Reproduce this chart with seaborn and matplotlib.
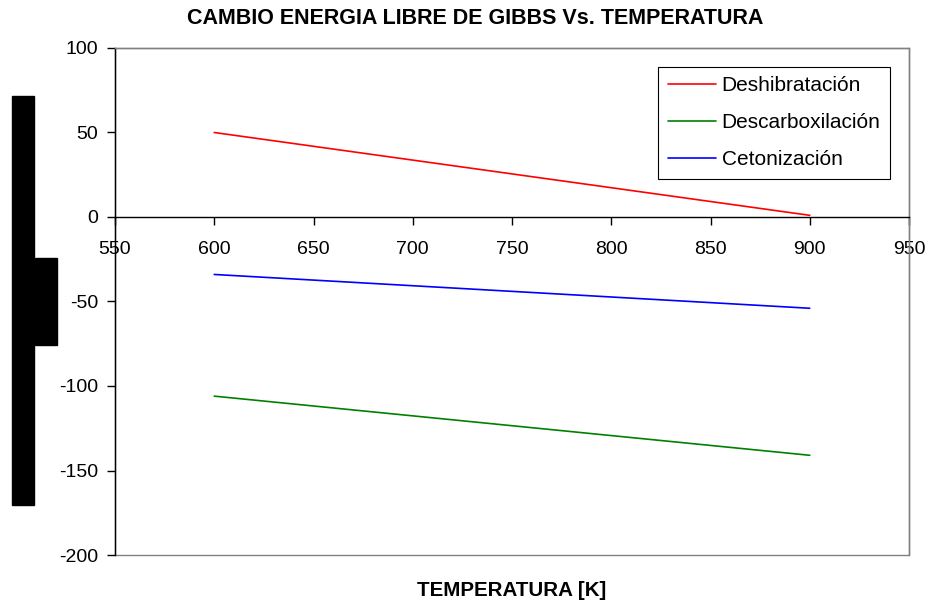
import matplotlib
matplotlib.use("Agg")
import matplotlib.pyplot as plt
from matplotlib.patches import Rectangle
import seaborn as sns
import pandas as pd

# Temperature endpoints [K] and Gibbs free energy change for each reaction
temperatura = [600, 900]
deshibratacion = [50, 1]
descarboxilacion = [-106, -141]
cetonizacion = [-34, -54]

series = ["Deshibratación", "Descarboxilación", "Cetonización"]
colores = ["#ff0000", "#008000", "#0000ff"]

df = pd.DataFrame({
    "T": temperatura * 3,
    "dG": deshibratacion + descarboxilacion + cetonizacion,
    "Reaccion": [series[0]] * 2 + [series[1]] * 2 + [series[2]] * 2,
})

sns.set_style("white")
plt.rcParams["font.family"] = ["Liberation Sans", "DejaVu Sans"]
plt.rcParams["axes.unicode_minus"] = False
plt.rcParams["text.color"] = "black"
plt.rcParams["xtick.color"] = "black"
plt.rcParams["ytick.color"] = "black"

fig = plt.figure(figsize=(9.32, 6.07), dpi=100)
ax = fig.add_axes([115 / 932, 1 - 555 / 607, 794 / 932, 507 / 607])

sns.lineplot(data=df, x="T", y="dG", hue="Reaccion", hue_order=series,
             palette=colores, linewidth=1.2, ax=ax, legend=True)

ax.set_xlim(550, 950)
ax.set_ylim(-200, 100)
ax.set_xticks(range(550, 951, 50))
ax.set_yticks(range(-200, 101, 50))
ax.set_xlabel("")
ax.set_ylabel("")

# x axis crosses at zero, left axis in black, grey frame around the plot area
ax.spines["bottom"].set_position(("data", 0))
ax.spines["bottom"].set_color("black")
ax.spines["bottom"].set_linewidth(1.0)
ax.spines["left"].set_color("black")
ax.spines["left"].set_linewidth(1.0)
for s in ("top", "right"):
    ax.spines[s].set_color("#808080")
    ax.spines[s].set_linewidth(1.0)
ax.add_patch(Rectangle((0, 0), 1, 1, transform=ax.transAxes, fill=False,
                       edgecolor="#808080", linewidth=1.0, clip_on=False, zorder=0))

ax.tick_params(axis="both", which="major", direction="out", length=6, width=1,
               color="black", labelsize=14, labelcolor="black")
ax.tick_params(axis="x", pad=11.5)
ax.tick_params(axis="y", pad=6)
ax.xaxis.set_ticks_position("bottom")
ax.yaxis.set_ticks_position("left")

fig.text(475 / 932, 1 - 18 / 607, "CAMBIO ENERGIA LIBRE DE GIBBS Vs. TEMPERATURA",
         ha="center", va="center", fontsize=15.5, fontweight="bold", color="black")
ax.text(0.5, -0.071, "TEMPERATURA [K]", transform=ax.transAxes,
        ha="center", va="center", fontsize=14.8, fontweight="bold", color="black")

leg = ax.legend(loc="upper right", bbox_to_anchor=(0.976, 0.9625), fontsize=15,
                frameon=True, fancybox=False, edgecolor="black", framealpha=1,
                handlelength=2.35, handletextpad=0.25, borderpad=0.45,
                labelspacing=0.86, borderaxespad=0)
leg.get_frame().set_linewidth(0.8)
for line in leg.get_lines():
    line.set_linewidth(1.2)

# blocked-out vertical label area at the left
fig.patches.append(Rectangle((12 / 932, 1 - 505 / 607), 22 / 932, 409 / 607,
                             transform=fig.transFigure, color="black", zorder=5))
fig.patches.append(Rectangle((35 / 932, 1 - 345 / 607), 22 / 932, 87 / 607,
                             transform=fig.transFigure, color="black", zorder=5))

fig.savefig("out.png", dpi=100)
